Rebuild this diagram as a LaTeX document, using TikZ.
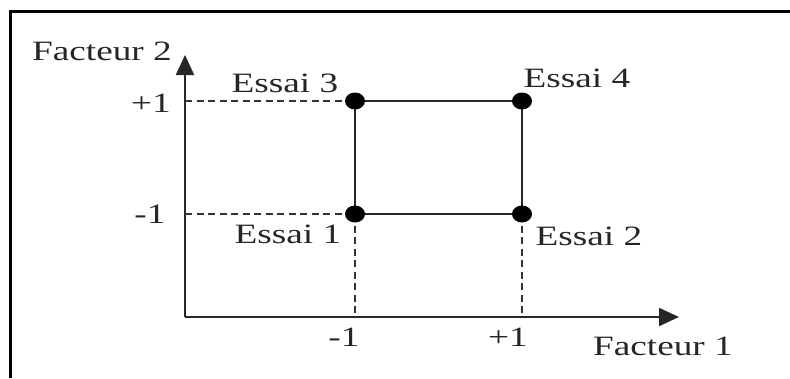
\documentclass[tikz,border=0pt]{standalone}
\usepackage{fontspec}
\setmainfont{Liberation Serif}
\usetikzlibrary{arrows.meta}

\tikzset{
  lbl/.style={anchor=base, inner sep=0pt, text=black!85,
    font=\fontsize{28}{31}\selectfont},
  axis/.style={line width=2.2pt, black!85, -{Triangle[length=20pt,width=18pt]}},
  side/.style={line width=2.8pt, black!85},
  guide/.style={line width=1.6pt, black!80, dash pattern=on 7pt off 4.5pt},
  dot/.style={black},
}
\newcommand{\wide}[1]{\scalebox{1.33}[1]{#1}}

\begin{document}
\begin{tikzpicture}[x=1pt, y=-1pt]
  \useasboundingbox (0,0) rectangle (790,378);

  % frame
  \draw[line width=3pt, black] (10,378) -- (10,11) -- (790,11);

  % axes
  \coordinate (O) at (185,317);
  \coordinate (ytip) at (185,55);
  \coordinate (xtip) at (679,317);
  \draw[axis] (O) -- (ytip);
  \draw[axis] (O) -- (xtip);

  % design points
  \coordinate (e1) at (355,214);
  \coordinate (e2) at (522,214);
  \coordinate (e3) at (355,101);
  \coordinate (e4) at (522,101);

  % guide projections onto the axes
  \coordinate (yp) at (185,101);
  \coordinate (ym) at (185,214);
  \coordinate (xm) at (355,317);
  \coordinate (xp) at (522,317);
  \draw[guide] (yp) -- (e3);
  \draw[guide] (ym) -- (e1);
  \draw[guide] (e1) -- (xm);
  \draw[guide] (e2) -- (xp);

  % experimental domain
  \draw[side] (e1) -- (e2) -- (e4) -- (e3) -- cycle;
  \foreach \p in {e1,e2,e3,e4}
    \fill[dot] (\p) ellipse [x radius=10pt, y radius=8.5pt];

  % labels
  \node[lbl] (f2) at (102,60) {\wide{Facteur 2}};
  \node[lbl] (f1) at (663,355) {\wide{Facteur 1}};
  \node[lbl] (yhi) at (151,112) {\wide{+1}};
  \node[lbl] (ylo) at (150,223) {\wide{-1}};
  \node[lbl] (xlo) at (344,346) {\wide{-1}};
  \node[lbl] (xhi) at (508,346) {\wide{+1}};
  \node[lbl] (l3) at (285,92) {\wide{Essai 3}};
  \node[lbl] (l4) at (577,87) {\wide{Essai 4}};
  \node[lbl] (l1) at (288,243) {\wide{Essai 1}};
  \node[lbl] (l2) at (589,245) {\wide{Essai 2}};
\end{tikzpicture}
\end{document}
